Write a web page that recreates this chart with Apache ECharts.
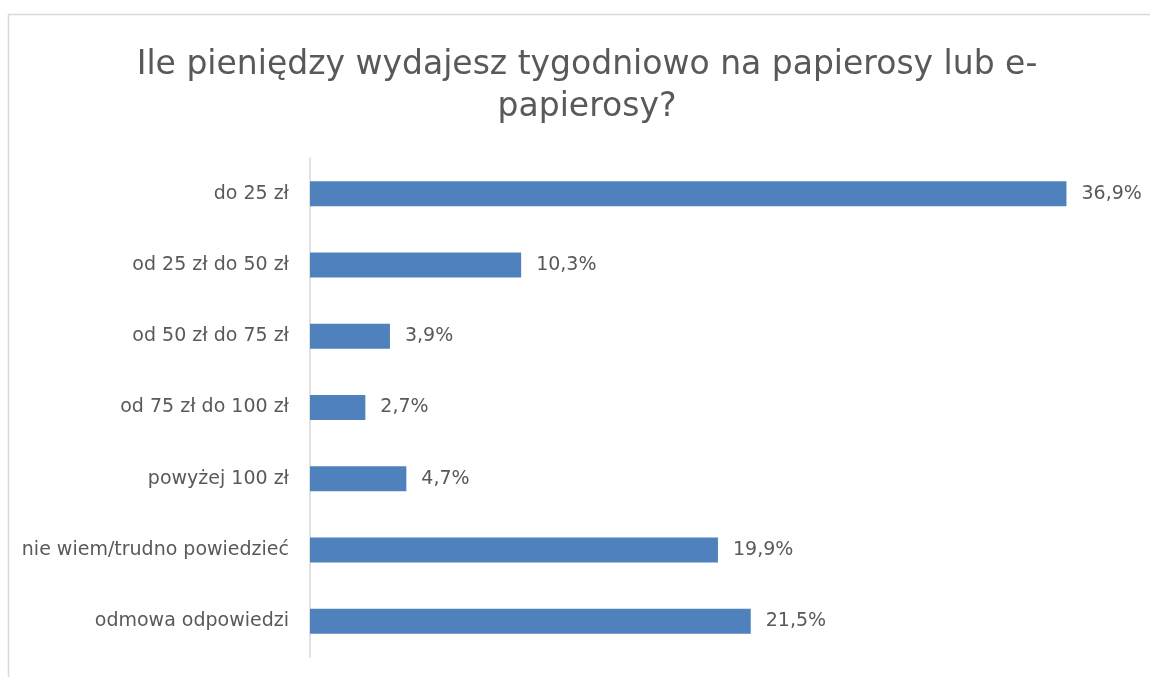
<!DOCTYPE html>
<html><head><meta charset="utf-8">
<script src="https://cdn.jsdelivr.net/npm/echarts@6/dist/echarts.min.js"></script>
<style>html,body{margin:0;padding:0;background:#fff;}#c{width:1150px;height:677px;}</style>
</head><body><div id="c"></div>
<script>
var titleText = 'Ile pieniędzy wydajesz tygodniowo na papierosy lub e-\npapierosy?';
var categories = ['do 25 zł','od 25 zł do 50 zł','od 50 zł do 75 zł','od 75 zł do 100 zł','powyżej 100 zł','nie wiem/trudno powiedzieć','odmowa odpowiedzi'];
var values = [36.9, 10.3, 3.9, 2.7, 4.7, 19.9, 21.5];
var FONT = '"DejaVu Sans", sans-serif';
var chart = echarts.init(document.getElementById('c'));
chart.setOption({
  animation: false,
  graphic: [{type:'rect', shape:{x:8.5,y:14.5,width:1200,height:700}, style:{fill:'none',stroke:'#d9d9d9',lineWidth:1.5}}],
  title: {text: titleText, left: 582, textAlign:'center', top: 39,
    textStyle:{fontFamily:FONT, fontSize:33, fontWeight:'normal', color:'#595959', lineHeight:42}},
  grid: {left:310, top:158, width:820, height:499},
  xAxis: {type:'value', min:0, max:40, show:false},
  yAxis: {type:'category', data:categories, inverse:true,
    axisLine:{show:true, lineStyle:{color:'#d9d9d9', width:1.5}},
    axisTick:{show:false},
    axisLabel:{fontFamily:FONT, fontSize:19, color:'#595959', margin:21}},
  series: [{type:'bar', data:values, barWidth:25, itemStyle:{color:'#4f81bd'},
    label:{show:true, position:'right', distance:15, fontFamily:FONT, fontSize:19, color:'#595959',
      formatter:function(p){return p.value.toFixed(1).replace('.',',')+'%';}}}]
});
</script></body></html>
